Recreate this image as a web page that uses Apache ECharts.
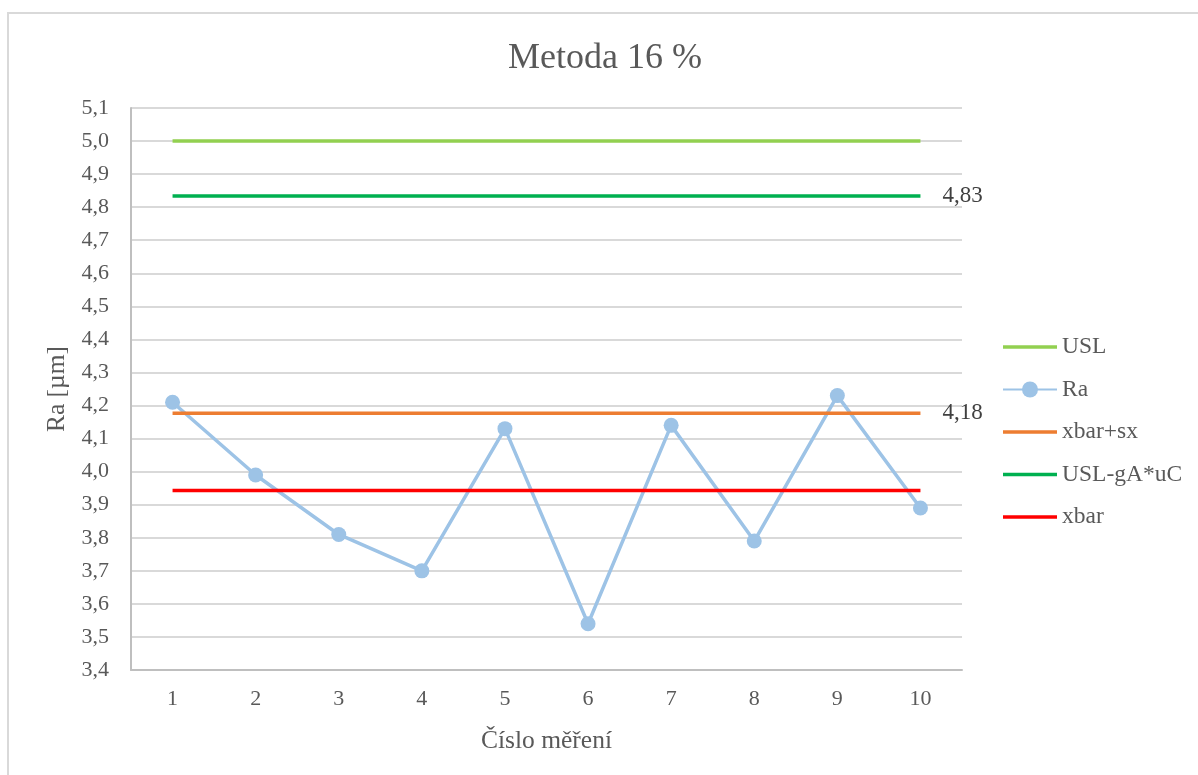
<!DOCTYPE html>
<html>
<head>
<meta charset="utf-8">
<script src="https://cdn.jsdelivr.net/npm/echarts@6/dist/echarts.min.js"></script>
<style>
html,body{margin:0;padding:0;background:#fff;}
#frame{position:absolute;left:7px;top:12px;width:1300px;height:900px;border-left:2px solid #d9d9d9;border-top:2px solid #d9d9d9;box-sizing:border-box;}
#main{position:absolute;left:0;top:0;width:1198px;height:775px;}
</style>
</head>
<body>
<div id="frame"></div>
<div id="main"></div>
<script>
const categories = ['1','2','3','4','5','6','7','8','9','10'];
const raValues = [4.21, 3.99, 3.81, 3.70, 4.13, 3.54, 4.14, 3.79, 4.23, 3.89];
const uslValue = 5.0;
const xbarSxValue = 4.177;
const uslGaValue = 4.834;
const xbarValue = 3.943;
const yTicks = [3.4, 5.1, 0.1];

const fill = v => categories.map(() => v);
const fmt = v => v.toFixed(2).replace('.', ',');
const font = 'Liberation Serif';
const grey = '#595959';
const lineIcon = 'path://M0,0 L54,0 L54,3.5 L0,3.5 Z';

const chart = echarts.init(document.getElementById('main'), null, {renderer: 'canvas'});
const lineSeries = (name, data, color, z, label) => ({
  name, type: 'line', data, z,
  symbol: 'none', showSymbol: false,
  lineStyle: {color, width: 3.5},
  itemStyle: {color},
  endLabel: label ? {
    show: true, distance: 22,
    formatter: p => fmt(p.value),
    fontFamily: font, fontSize: 23, color: '#404040'
  } : {show: false}
});

chart.setOption({
  animation: false,
  title: {
    text: 'Metoda 16 %', left: 503, top: 36,
    textStyle: {fontFamily: font, fontSize: 36, fontWeight: 'normal', color: grey}
  },
  legend: {
    orient: 'vertical', left: 997, top: 330, itemGap: 18.5,
    itemWidth: 54, itemHeight: 20,
    textStyle: {fontFamily: font, fontSize: 23.5, color: grey},
    data: [
      {name: 'USL', icon: lineIcon},
      {name: 'Ra'},
      {name: 'xbar+sx', icon: lineIcon},
      {name: 'USL-gA*uC', icon: lineIcon},
      {name: 'xbar', icon: lineIcon}
    ]
  },
  grid: {left: 131, top: 108, width: 831, height: 562, containLabel: false},
  xAxis: {
    type: 'category', data: categories, boundaryGap: true,
    name: 'Číslo měření', nameLocation: 'middle', nameGap: 58,
    nameTextStyle: {fontFamily: font, fontSize: 25.5, color: grey},
    axisLine: {show: true, lineStyle: {color: '#bfbfbf', width: 2}},
    axisTick: {show: false},
    axisLabel: {fontFamily: font, fontSize: 22, color: grey, margin: 18}
  },
  yAxis: {
    type: 'value', min: yTicks[0], max: yTicks[1], interval: yTicks[2],
    name: 'Ra [µm]', nameLocation: 'middle', nameGap: 60,
    nameTextStyle: {fontFamily: font, fontSize: 25.5, color: grey},
    axisLine: {show: true, lineStyle: {color: '#bfbfbf', width: 2}},
    axisTick: {show: false},
    axisLabel: {fontFamily: font, fontSize: 22, color: grey, margin: 22,
      formatter: v => v.toFixed(1).replace('.', ',')},
    splitLine: {show: true, lineStyle: {color: '#d9d9d9', width: 2}}
  },
  series: [
    lineSeries('USL', fill(uslValue), '#92D050', 2, false),
    {
      name: 'Ra', type: 'line', data: raValues, z: 3,
      symbol: 'circle', symbolSize: 15,
      lineStyle: {color: '#9DC3E6', width: 3.5},
      itemStyle: {color: '#9DC3E6'}
    },
    lineSeries('xbar+sx', fill(xbarSxValue), '#ED7D31', 4, true),
    lineSeries('USL-gA*uC', fill(uslGaValue), '#00B050', 5, true),
    lineSeries('xbar', fill(xbarValue), '#FF0000', 6, false)
  ]
});
</script>
</body>
</html>
